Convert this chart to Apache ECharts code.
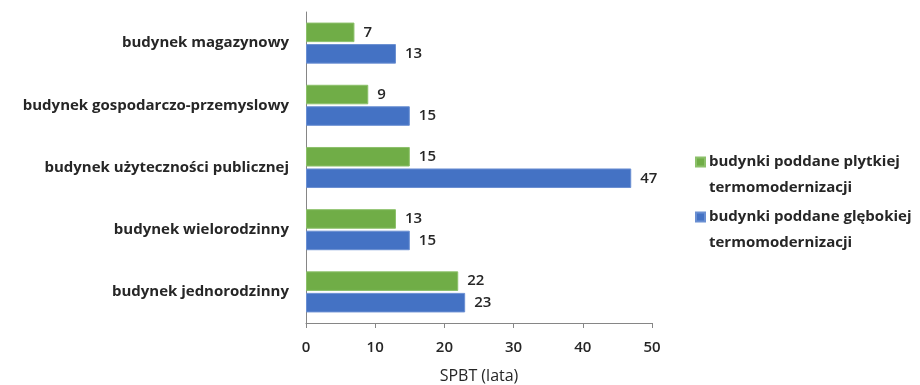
<!DOCTYPE html>
<html>
<head>
<meta charset="utf-8">
<script src="https://cdn.jsdelivr.net/npm/echarts@6/dist/echarts.min.js"></script>
<style>
  html, body { margin: 0; padding: 0; background: #ffffff; }
  #chart { width: 920px; height: 385px; }
</style>
</head>
<body>
<div id="chart"></div>
<script>
// Building types, listed top to bottom
const categories = [
  'budynek magazynowy',
  'budynek gospodarczo-przemyslowy',
  'budynek użyteczności publicznej',
  'budynek wielorodzinny',
  'budynek jednorodzinny'
];
// Simple payback time (years) per building type
const shallowRetrofit = [7, 9, 15, 13, 22];
const deepRetrofit = [13, 15, 47, 15, 23];
const seriesNames = [
  'budynki poddane plytkiej\ntermomodernizacji',
  'budynki poddane glębokiej\ntermomodernizacji'
];
const axisTitle = 'SPBT (lata)';

const FONT = '"Open Sans", Lato, sans-serif';
const TEXT = '#262626';

const chart = echarts.init(document.getElementById('chart'), null, { renderer: 'canvas' });

const labelStyle = {
  show: true,
  position: 'right',
  distance: 9,
  color: TEXT,
  fontFamily: FONT,
  fontSize: 15,
  fontWeight: 600
};

chart.setOption({
  animation: false,
  backgroundColor: '#ffffff',
  grid: {
    left: 306, right: 268, top: 12, bottom: 62,
    containLabel: false,
    outerBoundsMode: 'none'
  },
  legend: {
    orient: 'vertical',
    left: 690,
    top: 118,
    itemWidth: 9,
    itemHeight: 9,
    itemGap: -23,
    icon: 'rect',
    // leading blank line keeps the marker level with the first text line
    formatter: name => '\n' + name,
    textStyle: {
      color: TEXT,
      fontFamily: FONT,
      fontSize: 15,
      fontWeight: 'bold',
      lineHeight: 26,
      padding: [0, 0, 0, -1]
    },
    data: seriesNames
  },
  xAxis: {
    type: 'value',
    min: 0,
    max: 50,
    interval: 10,
    name: axisTitle,
    nameLocation: 'middle',
    nameGap: 45,
    nameTextStyle: { color: TEXT, fontFamily: FONT, fontSize: 16 },
    axisLine: { show: true, lineStyle: { color: '#868686', width: 1 } },
    axisTick: { show: true, length: 5, lineStyle: { color: '#868686' } },
    axisLabel: { color: TEXT, fontFamily: FONT, fontSize: 15, fontWeight: 600, margin: 17 },
    splitLine: { show: false }
  },
  yAxis: {
    type: 'category',
    inverse: true,
    data: categories,
    axisLine: { show: true, lineStyle: { color: '#868686', width: 1 } },
    axisTick: { show: false },
    axisLabel: { color: TEXT, fontFamily: FONT, fontSize: 15, fontWeight: 'bold', margin: 17 }
  },
  series: [
    {
      name: seriesNames[0],
      type: 'bar',
      data: shallowRetrofit,
      barGap: '10%',
      barCategoryGap: '34%',
      itemStyle: { color: '#70AD47', borderColor: '#8cc06a', borderWidth: 1 },
      label: labelStyle
    },
    {
      name: seriesNames[1],
      type: 'bar',
      data: deepRetrofit,
      barGap: '10%',
      barCategoryGap: '34%',
      itemStyle: { color: '#4472C4', borderColor: '#6a8fd2', borderWidth: 1 },
      label: labelStyle
    }
  ]
});
</script>
</body>
</html>
